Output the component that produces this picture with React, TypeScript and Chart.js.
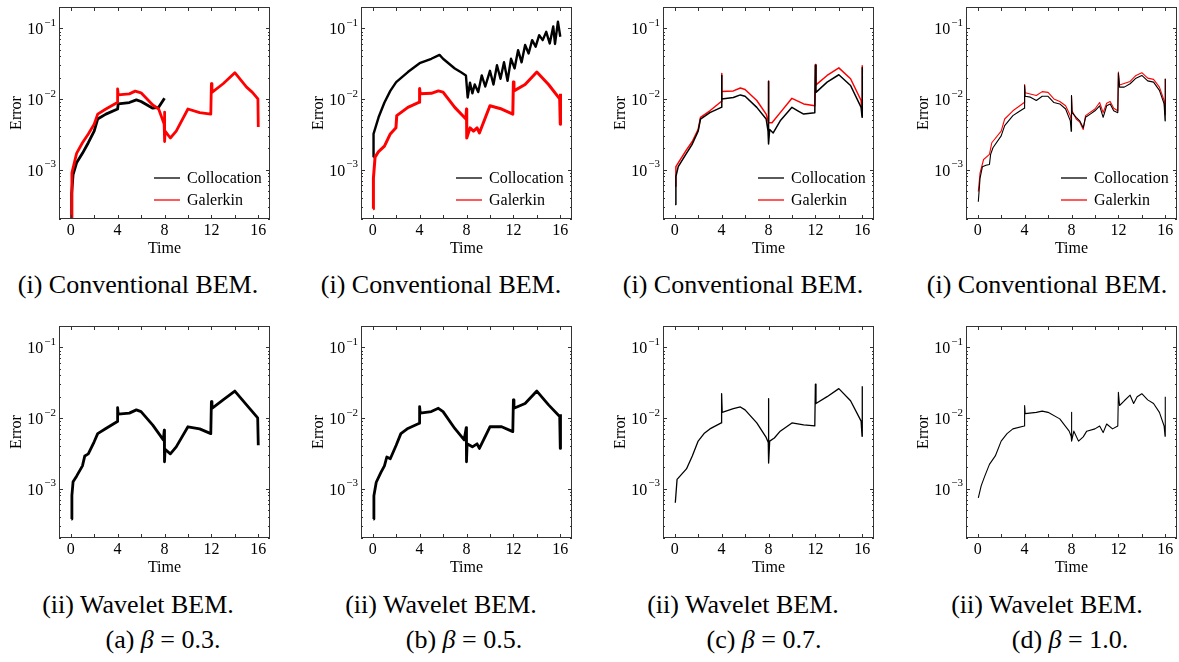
import React, { useEffect, useRef } from "react";
import { Chart, registerables } from "chart.js";
Chart.register(...registerables);

const FONT = '"Liberation Serif", "Times New Roman", serif';

const xTicks = [0, 4, 8, 12, 16];
const xMinorTicks = [0, 2, 4, 6, 8, 10, 12, 14, 16];
const yTicks = [1e-3, 1e-2, 1e-1];
const yTickExp = ["−3", "−2", "−1"];
const seriesNames = ["Collocation", "Galerkin"];
const rowCaptions = ["(i) Conventional BEM.", "(ii) Wavelet BEM."];
const betaLetters = ["(a)", "(b)", "(c)", "(d)"];
const betaValues = ["0.3", "0.5", "0.7", "1.0"];

// β = 0.3, conventional
const c03cT = [0.03, 0.06, 0.1, 0.2, 0.5, 1, 1.5, 2, 2.3, 3, 4, 4.05, 5, 5.6, 6, 7, 7.5, 8];
const c03cV = [2e-4, 3e-4, 4.6e-4, 8.5e-4, 1.25e-3, 1.7e-3, 2.4e-3, 3.5e-3, 5.2e-3, 6.1e-3, 7.2e-3, 8.5e-3, 8.9e-3, 9.7e-3, 9.2e-3, 7.4e-3, 7.6e-3, 1.02e-2];
const c03gT = [0.03, 0.1, 0.5, 1, 1.5, 2, 2.3, 3, 3.98, 4, 4.05, 5, 5.5, 6, 7, 7.5, 7.97, 8, 8.02, 8.05, 8.5, 9, 10, 11, 11.95, 12, 12.05, 13, 14, 15, 15.5, 15.97, 16];
const c03gV = [2e-4, 9e-4, 1.7e-3, 2.4e-3, 3.2e-3, 4.4e-3, 6.1e-3, 7.2e-3, 8.9e-3, 1.39e-2, 1.14e-2, 1.18e-2, 1.29e-2, 1.22e-2, 8.2e-3, 7.2e-3, 4.4e-3, 6.5e-3, 2.5e-3, 3.5e-3, 2.8e-3, 3.5e-3, 7.2e-3, 6.4e-3, 6.1e-3, 1.64e-2, 1.24e-2, 1.64e-2, 2.35e-2, 1.47e-2, 1.24e-2, 1e-2, 4e-3];
// β = 0.3, wavelet
const w03T = [0.05, 0.1, 0.2, 0.5, 1, 1.2, 1.5, 2, 2.3, 3, 3.98, 4, 4.05, 5, 5.6, 6, 7, 7.9, 7.98, 8, 8.05, 8.5, 9, 10, 11, 11.95, 12, 12.05, 13, 14, 15, 15.95, 16];
const w03V = [3.7e-4, 8e-4, 1.25e-3, 1.5e-3, 2.1e-3, 2.9e-3, 3.1e-3, 4.6e-3, 6e-3, 7.1e-3, 8.9e-3, 1.4e-2, 1.13e-2, 1.17e-2, 1.3e-2, 1.23e-2, 7.9e-3, 4.9e-3, 6.7e-3, 2.4e-3, 3.6e-3, 3.1e-3, 3.9e-3, 7.5e-3, 7e-3, 6e-3, 1.7e-2, 1.37e-2, 1.8e-2, 2.4e-2, 1.53e-2, 1e-2, 4.1e-3];

// β = 0.5, conventional
const c05cT = [0.05, 0.07, 0.5, 1, 1.5, 2, 3, 4, 5, 5.7, 6, 7, 7.5, 7.95, 8.1, 8.3, 8.5, 8.7, 9, 9.3, 9.6, 10, 10.3, 10.6, 10.9, 11.2, 11.5, 11.8, 12.1, 12.4, 12.7, 13, 13.3, 13.6, 13.9, 14.2, 14.5, 14.8, 15.1, 15.4, 15.55, 15.8, 16];
const c05cV = [1.5e-3, 3.2e-3, 5.5e-3, 8.9e-3, 1.3e-2, 1.73e-2, 2.4e-2, 3.2e-2, 3.7e-2, 4.2e-2, 3.7e-2, 2.7e-2, 2.4e-2, 2.15e-2, 1.05e-2, 1.7e-2, 1.2e-2, 1.6e-2, 1.25e-2, 2.15e-2, 1.5e-2, 2.5e-2, 1.6e-2, 3e-2, 1.93e-2, 3.3e-2, 1.8e-2, 3.7e-2, 2.7e-2, 4.9e-2, 3.3e-2, 5.8e-2, 4.4e-2, 6.8e-2, 5.5e-2, 8e-2, 6.8e-2, 8.9e-2, 6.1e-2, 0.106, 6e-2, 0.124, 7.6e-2];
const c05gT = [0.03, 0.06, 0.2, 0.5, 1, 1.5, 1.98, 2.05, 3, 3.98, 4, 4.05, 5, 5.6, 6, 7, 7.95, 8, 8.02, 8.3, 8.6, 8.9, 9.1, 10, 11, 11.95, 12, 12.05, 13, 14, 15, 15.95, 16, 16.02];
const c05gV = [2.8e-4, 7.6e-4, 1.5e-3, 1.8e-3, 2.15e-3, 3.2e-3, 3.9e-3, 5.8e-3, 7.6e-3, 9e-3, 1.4e-2, 1.18e-2, 1.2e-2, 1.3e-2, 1.25e-2, 7.6e-3, 5.2e-3, 7.2e-3, 2.8e-3, 3.9e-3, 3.5e-3, 3.9e-3, 3.3e-3, 8e-3, 7.2e-3, 6.1e-3, 1.73e-2, 1.3e-2, 1.6e-2, 2.4e-2, 1.6e-2, 1e-2, 4.4e-3, 1.18e-2];
// β = 0.5, wavelet
const w05T = [0.05, 0.1, 0.3, 0.7, 1, 1.2, 1.5, 2, 2.4, 3, 3.98, 4, 4.05, 5, 5.6, 6, 7, 7.8, 7.98, 8, 8.05, 8.5, 8.9, 9.1, 10, 11, 11.95, 12, 12.05, 13, 14, 15, 15.95, 16, 16.02];
const w05V = [3.7e-4, 7.9e-4, 1.23e-3, 1.7e-3, 2.1e-3, 2.8e-3, 2.65e-3, 4.1e-3, 6e-3, 7.1e-3, 8.4e-3, 1.45e-2, 1.17e-2, 1.23e-2, 1.37e-2, 1.23e-2, 7.1e-3, 4.9e-3, 7.3e-3, 2.4e-3, 4.3e-3, 3.9e-3, 4.3e-3, 3.7e-3, 7.5e-3, 7.5e-3, 6.4e-3, 1.8e-2, 1.37e-2, 1.6e-2, 2.4e-2, 1.53e-2, 1.05e-2, 3.7e-3, 1.13e-2];

// β = 0.7, conventional
const c07cT = [0.03, 0.1, 0.3, 1, 1.5, 2, 2.2, 3, 3.97, 4, 4.03, 5, 5.6, 6, 7, 7.8, 7.96, 8, 8.01, 8.1, 8.4, 9, 10, 10.5, 11, 11.95, 12, 12.05, 13, 14, 15, 15.9, 15.98, 16];
const c07cV = [3.2e-4, 8e-4, 1.1e-3, 1.7e-3, 2.3e-3, 3.5e-3, 5.2e-3, 6.4e-3, 7.6e-3, 2.15e-2, 1e-2, 1.05e-2, 1.14e-2, 1.09e-2, 7.6e-3, 5.2e-3, 3.5e-3, 1.77e-2, 2.3e-3, 3.7e-3, 3.3e-3, 4.9e-3, 7.6e-3, 6.8e-3, 6.1e-3, 6.4e-3, 3e-2, 1.24e-2, 1.73e-2, 2.2e-2, 1.55e-2, 7.6e-3, 5.5e-3, 2.8e-2];
const c07gT = [0.03, 0.1, 1, 1.5, 2, 2.2, 3, 3.97, 4, 4.03, 5, 5.6, 6, 7, 7.8, 7.97, 8, 8.02, 8.3, 9, 10, 11, 11.95, 12, 12.05, 13, 14, 15, 15.9, 15.98, 16];
const c07gV = [5.8e-4, 1.1e-3, 1.9e-3, 2.5e-3, 3.7e-3, 5.5e-3, 6.8e-3, 9.2e-3, 2.3e-2, 1.27e-2, 1.3e-2, 1.43e-2, 1.36e-2, 9.5e-3, 6.1e-3, 4.8e-3, 1.8e-2, 4.6e-3, 4.6e-3, 6.4e-3, 1.02e-2, 8.5e-3, 8e-3, 3.06e-2, 1.58e-2, 2.15e-2, 2.75e-2, 1.93e-2, 9.5e-3, 6e-3, 3e-2];
// β = 0.7, wavelet
const w07T = [0.05, 0.2, 1, 1.5, 2, 2.5, 3, 3.97, 4, 4.05, 5, 5.6, 6, 7, 7.8, 7.98, 8, 8.02, 8.1, 8.5, 9, 10, 11, 11.95, 12, 12.05, 13, 14, 15, 15.9, 15.98, 16];
const w07V = [6.3e-4, 1.35e-3, 1.9e-3, 2.9e-3, 4.7e-3, 6e-3, 7e-3, 8.5e-3, 2.2e-2, 1.2e-2, 1.35e-2, 1.43e-2, 1.3e-2, 8.5e-3, 5.3e-3, 4.5e-3, 1.87e-2, 2.3e-3, 4.7e-3, 5.2e-3, 6.5e-3, 8.5e-3, 8e-3, 7.7e-3, 3e-2, 1.6e-2, 2e-2, 2.6e-2, 1.75e-2, 9e-3, 5.5e-3, 2.8e-2];

// β = 1.0, conventional
const c10cT = [0.05, 0.2, 0.4, 0.7, 1, 1.1, 1.3, 2, 2.3, 3, 3.5, 3.97, 4, 4.05, 4.5, 5, 5.5, 6, 6.5, 7, 7.5, 7.9, 7.97, 8, 8.05, 8.4, 8.7, 9, 9.2, 9.6, 10, 10.4, 10.7, 11, 11.3, 11.6, 11.95, 12, 12.1, 12.5, 13, 13.5, 14, 14.5, 15, 15.5, 15.9, 15.98, 16];
const c10cV = [3.5e-4, 7.6e-4, 1.1e-3, 1.15e-3, 1.18e-3, 1.64e-3, 2.04e-3, 3e-3, 4.2e-3, 5.8e-3, 6.6e-3, 7.4e-3, 1.55e-2, 1.09e-2, 1.06e-2, 9.5e-3, 1.09e-2, 1.09e-2, 8.9e-3, 8.5e-3, 7.2e-3, 4.9e-3, 3.5e-3, 1.12e-2, 6.4e-3, 5.5e-3, 4.9e-3, 3.9e-3, 5.5e-3, 6.1e-3, 6.8e-3, 8e-3, 5.5e-3, 8e-3, 8.5e-3, 6.8e-3, 6.4e-3, 2.3e-2, 1.47e-2, 1.47e-2, 1.64e-2, 1.97e-2, 2.15e-2, 1.8e-2, 1.73e-2, 1.32e-2, 8.5e-3, 4.9e-3, 1.93e-2];
const c10gT = [0.05, 0.2, 0.5, 1, 1.2, 2, 2.3, 3, 3.97, 4, 4.05, 5, 5.5, 6, 6.5, 7, 7.5, 7.9, 7.97, 8, 8.05, 8.4, 8.7, 9, 9.2, 10, 10.4, 10.7, 11, 11.3, 11.6, 11.95, 12, 12.1, 13, 13.5, 14, 14.5, 15, 15.5, 15.9, 15.98, 16];
const c10gV = [4.9e-4, 9e-4, 1.39e-3, 1.64e-3, 2.4e-3, 3.5e-3, 5.2e-3, 6.8e-3, 8.9e-3, 1.6e-2, 1.22e-2, 1.12e-2, 1.27e-2, 1.24e-2, 1e-2, 9.2e-3, 8e-3, 5.8e-3, 4.8e-3, 1.12e-2, 6.8e-3, 5.2e-3, 4.7e-3, 3.7e-3, 5.8e-3, 7.2e-3, 8.9e-3, 6.4e-3, 8.7e-3, 9.2e-3, 7.4e-3, 6.8e-3, 2.4e-2, 1.58e-2, 1.77e-2, 2.15e-2, 2.35e-2, 1.97e-2, 1.89e-2, 1.47e-2, 9.5e-3, 6e-3, 1.93e-2];
// β = 1.0, wavelet
const w10T = [0.05, 0.3, 0.6, 1, 1.5, 2, 2.5, 3, 3.97, 4, 4.05, 5, 5.5, 6, 7, 7.8, 7.97, 8, 8.02, 8.2, 8.6, 9, 9.3, 10, 10.4, 10.7, 11, 11.5, 11.95, 12, 12.1, 12.5, 13, 13.3, 13.6, 14, 14.5, 15, 15.5, 15.9, 15.98, 16];
const w10V = [7.4e-4, 1.1e-3, 1.5e-3, 2.2e-3, 2.9e-3, 4.7e-3, 6e-3, 7e-3, 7.7e-3, 1.5e-2, 1.15e-2, 1.2e-2, 1.25e-2, 1.2e-2, 9.7e-3, 6.5e-3, 5.5e-3, 1.2e-2, 4.7e-3, 6.5e-3, 4.7e-3, 5.4e-3, 6.5e-3, 7e-3, 7.7e-3, 6.2e-3, 8.2e-3, 7e-3, 7.7e-3, 2.3e-2, 1.5e-2, 1.75e-2, 2.1e-2, 1.6e-2, 2e-2, 2.2e-2, 1.8e-2, 1.6e-2, 1.2e-2, 7.7e-3, 5.5e-3, 2e-2];

type Series = { t: number[]; v: number[]; color: string; width: number; label: string; order: number };
type Panel = { col: number; row: number; series: Series[]; legend: boolean };

const BLACK = "#000000";
const RED = "#ff0000";

const panels: Panel[] = [
  { col: 0, row: 0, legend: true, series: [
    { t: c03cT, v: c03cV, color: BLACK, width: 2.8, label: seriesNames[0], order: 2 },
    { t: c03gT, v: c03gV, color: RED, width: 2.8, label: seriesNames[1], order: 1 },
  ] },
  { col: 1, row: 0, legend: true, series: [
    { t: c05cT, v: c05cV, color: BLACK, width: 2.4, label: seriesNames[0], order: 2 },
    { t: c05gT, v: c05gV, color: RED, width: 3, label: seriesNames[1], order: 1 },
  ] },
  { col: 2, row: 0, legend: true, series: [
    { t: c07cT, v: c07cV, color: BLACK, width: 1.5, label: seriesNames[0], order: 1 },
    { t: c07gT, v: c07gV, color: RED, width: 1.5, label: seriesNames[1], order: 2 },
  ] },
  { col: 3, row: 0, legend: true, series: [
    { t: c10cT, v: c10cV, color: BLACK, width: 1.1, label: seriesNames[0], order: 1 },
    { t: c10gT, v: c10gV, color: RED, width: 1.1, label: seriesNames[1], order: 2 },
  ] },
  { col: 0, row: 1, legend: false, series: [{ t: w03T, v: w03V, color: BLACK, width: 2.8, label: "Wavelet", order: 1 }] },
  { col: 1, row: 1, legend: false, series: [{ t: w05T, v: w05V, color: BLACK, width: 2.8, label: "Wavelet", order: 1 }] },
  { col: 2, row: 1, legend: false, series: [{ t: w07T, v: w07V, color: BLACK, width: 1.3, label: "Wavelet", order: 1 }] },
  { col: 3, row: 1, legend: false, series: [{ t: w10T, v: w10V, color: BLACK, width: 1.1, label: "Wavelet", order: 1 }] },
];

const PLOT_LEFT = [59, 361, 663, 966];
const PLOT_TOP = [7, 326];
const Y_AXIS_W = 59;
const X_AXIS_H = 40;
const CANVAS_W = 272;
const CANVAS_H = 259;
const AXIS_FONT = 16;

const framePlugin = {
  id: "frameTicks",
  afterDatasetsDraw(chart: any) {
    const { ctx, chartArea } = chart;
    const xs = chart.scales.x;
    const ys = chart.scales.y;
    const { left, right, top, bottom } = chartArea;
    ctx.save();
    ctx.strokeStyle = "#333";
    ctx.lineWidth = 1;
    ctx.strokeRect(Math.round(left) + 0.5, Math.round(top) + 0.5, Math.round(right - left) - 1, Math.round(bottom - top) - 1);
    ctx.beginPath();
    for (const v of xMinorTicks) {
      const px = Math.round(xs.getPixelForValue(v)) + 0.5;
      ctx.moveTo(px, bottom); ctx.lineTo(px, bottom - 4);
      ctx.moveTo(px, top); ctx.lineTo(px, top + 4);
    }
    for (let e = -4; e <= -1; e++) {
      for (let m = 1; m <= 9; m++) {
        const val = m * Math.pow(10, e);
        if (val < ys.min || val > ys.max) continue;
        const py = Math.round(ys.getPixelForValue(val)) + 0.5;
        const len = m === 1 ? 4 : 2;
        ctx.moveTo(left, py); ctx.lineTo(left + len, py);
        ctx.moveTo(right, py); ctx.lineTo(right - len, py);
      }
    }
    ctx.stroke();
    // y tick labels: 10^e
    ctx.fillStyle = "#000";
    yTicks.forEach((val, i) => {
      const py = ys.getPixelForValue(val);
      ctx.font = `11px ${FONT}`;
      ctx.textAlign = "right";
      ctx.textBaseline = "middle";
      const supW = ctx.measureText(yTickExp[i]).width;
      ctx.fillText(yTickExp[i], left - 3, py - 5);
      ctx.font = `${AXIS_FONT}px ${FONT}`;
      ctx.fillText("10", left - 4 - supW, py + 2);
    });
    ctx.restore();
  },
};

const legendPlugin = {
  id: "insideLegend",
  afterDraw(chart: any) {
    const opts = chart.options.plugins.insideLegend;
    if (!opts || !opts.show) return;
    const { ctx, chartArea } = chart;
    ctx.save();
    chart.data.datasets.forEach((ds: any, i: number) => {
      const y = chartArea.top + 171 + i * 22;
      ctx.strokeStyle = ds.borderColor;
      ctx.lineWidth = 1.3;
      ctx.beginPath();
      ctx.moveTo(chartArea.left + 95, y);
      ctx.lineTo(chartArea.left + 121, y);
      ctx.stroke();
      ctx.fillStyle = "#000";
      ctx.font = `16px ${FONT}`;
      ctx.textAlign = "left";
      ctx.textBaseline = "middle";
      ctx.fillText(ds.label, chartArea.left + 128, y + 1);
    });
    ctx.restore();
  },
};

function PanelChart({ panel }: { panel: Panel }) {
  const ref = useRef<HTMLCanvasElement | null>(null);
  useEffect(() => {
    if (!ref.current) return;
    const chart = new Chart(ref.current, {
      type: "line",
      data: {
        datasets: panel.series.map((s) => ({
          label: s.label,
          data: s.t.map((t, i) => ({ x: t, y: s.v[i] })),
          borderColor: s.color,
          backgroundColor: s.color,
          borderWidth: s.width,
          pointRadius: 0,
          tension: 0,
          fill: false,
          order: s.order,
          borderJoinStyle: "round",
        })),
      },
      options: {
        responsive: false,
        animation: false,
        devicePixelRatio: 1,
        events: [],
        layout: { padding: { top: 7, right: 2, left: 0, bottom: 0 } },
        plugins: {
          legend: { display: false },
          tooltip: { enabled: false },
          insideLegend: { show: panel.legend },
        } as any,
        scales: {
          x: {
            type: "linear",
            min: -1,
            max: 17,
            afterBuildTicks: (s: any) => { s.ticks = xTicks.map((v) => ({ value: v })); },
            afterFit: (s: any) => { s.height = X_AXIS_H; },
            grid: { display: false, drawTicks: false },
            border: { display: false },
            ticks: { font: { family: FONT, size: AXIS_FONT }, color: "#000", padding: 2, maxRotation: 0, autoSkip: false },
            title: { display: true, text: "Time", font: { family: FONT, size: AXIS_FONT }, color: "#000", padding: { top: 0, bottom: 1 } },
          },
          y: {
            type: "logarithmic",
            min: 2e-4,
            max: 0.2,
            afterBuildTicks: (s: any) => { s.ticks = yTicks.map((v) => ({ value: v })); },
            afterFit: (s: any) => { s.width = Y_AXIS_W; },
            grid: { display: false, drawTicks: false },
            border: { display: false },
            ticks: { display: false },
            title: { display: true, text: "Error", font: { family: FONT, size: AXIS_FONT }, color: "#000", padding: { top: 7, bottom: 0 } },
          },
        },
      } as any,
      plugins: [framePlugin, legendPlugin],
    });
    return () => chart.destroy();
  }, [panel]);
  const left = PLOT_LEFT[panel.col] - Y_AXIS_W;
  const top = PLOT_TOP[panel.row] - 7;
  return (
    <canvas
      ref={ref}
      width={CANVAS_W}
      height={CANVAS_H}
      style={{ position: "absolute", left, top, width: CANVAS_W, height: CANVAS_H }}
    />
  );
}

const CAP_X = [138, 441, 743, 1047];
const BETA_X = [163, 464, 764, 1070];

export default function App() {
  const capStyle = (x: number, y: number): React.CSSProperties => ({
    position: "absolute",
    left: x,
    top: y,
    transform: "translate(-50%, -50%)",
    whiteSpace: "nowrap",
    fontFamily: FONT,
    fontSize: 26,
    color: "#000",
    lineHeight: 1,
  });
  return (
    <div style={{ position: "absolute", left: 0, top: 0, width: 1179, height: 662, background: "#fff", overflow: "hidden" }}>
      {panels.map((p, i) => (
        <PanelChart key={i} panel={p} />
      ))}
      {CAP_X.map((x, i) => (
        <div key={"c1" + i} style={capStyle(x, 285)}>{rowCaptions[0]}</div>
      ))}
      {CAP_X.map((x, i) => (
        <div key={"c2" + i} style={capStyle(x, 605)}>{rowCaptions[1]}</div>
      ))}
      {BETA_X.map((x, i) => (
        <div key={"b" + i} style={capStyle(x, 640)}>
          {betaLetters[i]} <i>β</i> = {betaValues[i]}.
        </div>
      ))}
    </div>
  );
}
